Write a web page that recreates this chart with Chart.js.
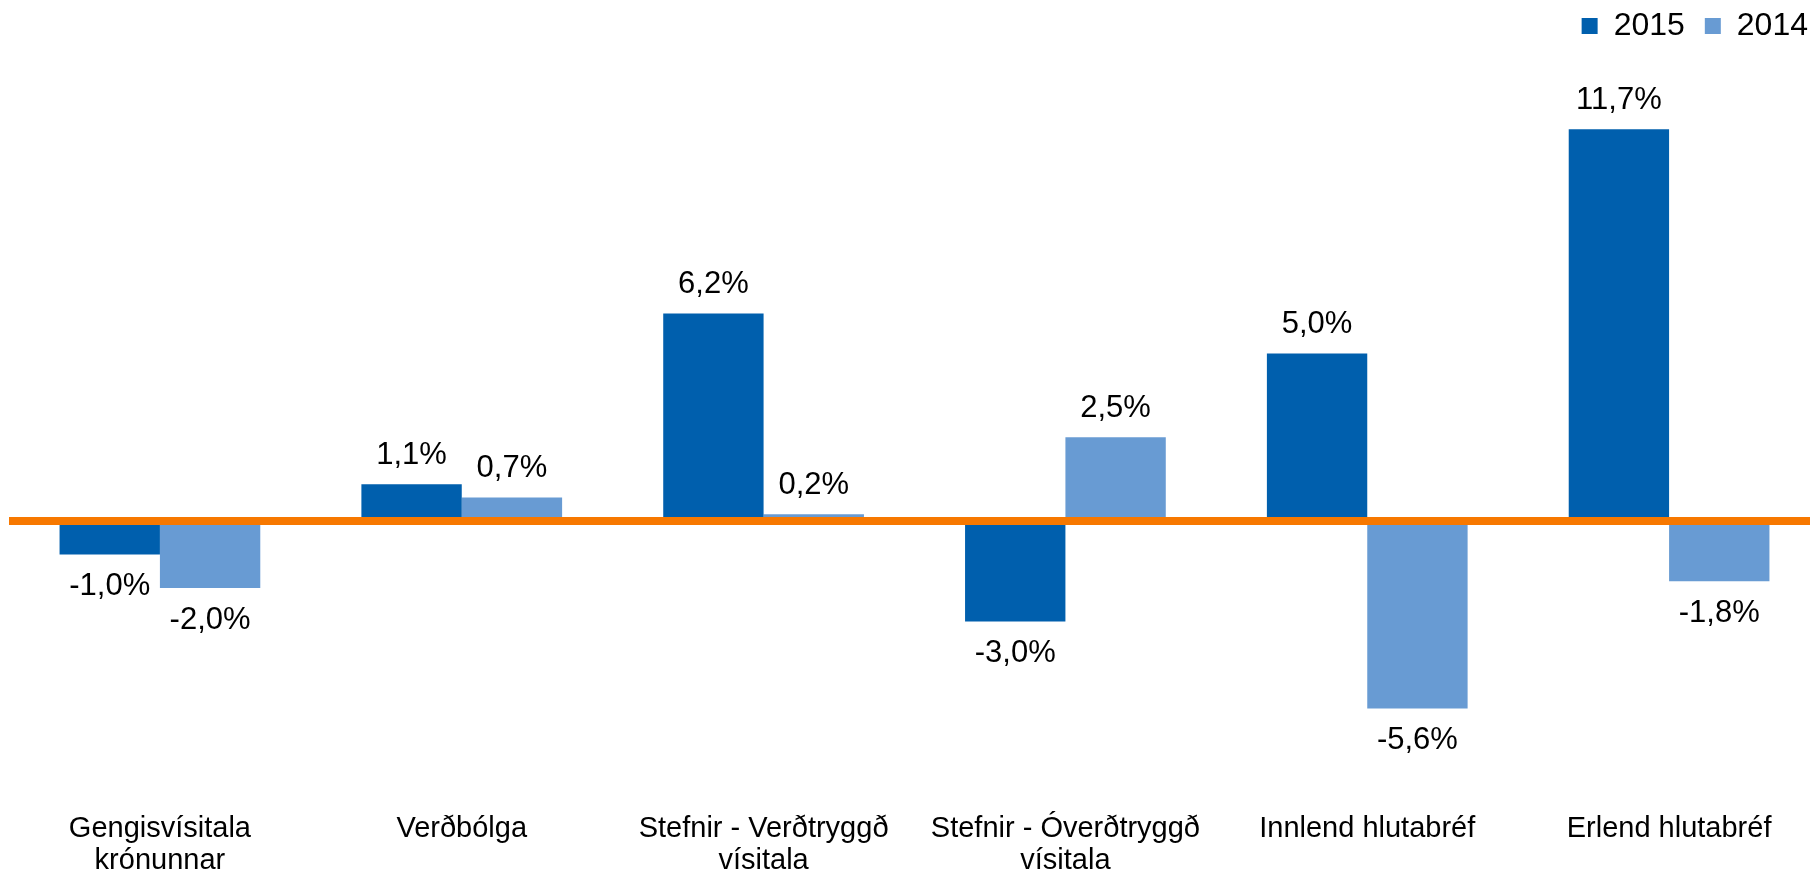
<!DOCTYPE html>
<html>
<head>
<meta charset="utf-8">
<script src="https://cdn.jsdelivr.net/npm/chart.js@4/dist/chart.umd.min.js"></script>
<style>
  html, body { margin: 0; padding: 0; background: #fff; overflow: hidden; }
  #wrap { width: 1810px; height: 870px; overflow: hidden; }
</style>
</head>
<body>
<div id="wrap"><canvas id="myChart" width="1820" height="870"></canvas></div>
<script>
const categories = [
  ['Gengisvísitala', 'krónunnar'],
  'Verðbólga',
  ['Stefnir - Verðtryggð', 'vísitala'],
  ['Stefnir - Óverðtryggð', 'vísitala'],
  'Innlend hlutabréf',
  'Erlend hlutabréf'
];
const values2015 = [-1.0, 1.1, 6.2, -3.0, 5.0, 11.7];
const values2014 = [-2.0, 0.7, 0.2, 2.5, -5.6, -1.8];

const FONT = "'Liberation Sans', Arial, sans-serif";

// writes the value over / under each bar
const barLabels = {
  id: 'barLabels',
  afterDatasetsDraw(chart) {
    const ctx = chart.ctx;
    ctx.save();
    ctx.font = '31px ' + FONT;
    ctx.fillStyle = '#000';
    ctx.textAlign = 'center';
    ctx.textBaseline = 'middle';
    chart.data.datasets.forEach((ds, i) => {
      chart.getDatasetMeta(i).data.forEach((bar, j) => {
        const v = ds.data[j];
        const txt = v.toFixed(1).replace('.', ',') + '%';
        const y = v >= 0 ? bar.y - 29 : bar.y + 32;
        ctx.fillText(txt, bar.x, y);
      });
    });
    ctx.restore();
  }
};

// canvas is a bit wider than the page, nudge the legend to the right spot
const legendShift = {
  id: 'legendShift',
  afterLayout(chart) {
    if (chart.legend) chart.legend.right += 8;
  }
};

const data = {
  labels: categories,
  datasets: [
    {
      label: '2015',
      data: values2015,
      backgroundColor: '#005fad',
      categoryPercentage: 0.665,
      barPercentage: 1.0
    },
    {
      label: '2014',
      data: values2014,
      backgroundColor: '#689bd3',
      categoryPercentage: 0.665,
      barPercentage: 1.0
    }
  ]
};

const config = {
  type: 'bar',
  data: data,
  plugins: [barLabels, legendShift],
  options: {
    responsive: false,
    animation: false,
    layout: { padding: { left: 9, right: 0, top: -10, bottom: -11 } },
    plugins: {
      legend: {
        position: 'top',
        align: 'end',
        labels: {
          boxWidth: 16,
          boxHeight: 16,
          padding: 20,
          color: '#000',
          font: { family: FONT, size: 32 }
        }
      },
      tooltip: { enabled: false }
    },
    scales: {
      x: {
        grid: { display: false },
        border: { display: false },
        ticks: {
          color: '#000',
          padding: 4,
          maxRotation: 0,
          autoSkip: false,
          font: { family: FONT, size: 29, lineHeight: 1.1 }
        }
      },
      y: {
        min: -8.37,
        max: 14.01,
        afterBuildTicks: (axis) => { axis.ticks = [{ value: 0 }]; },
        ticks: { display: false },
        border: { display: false },
        grid: {
          z: 1,
          drawTicks: false,
          lineWidth: 8,
          color: (c) => c.tick && c.tick.value === 0 ? '#f77800' : 'rgba(0,0,0,0)'
        }
      }
    }
  }
};

const myChart = new Chart(document.getElementById('myChart'), config);
</script>
</body>
</html>
